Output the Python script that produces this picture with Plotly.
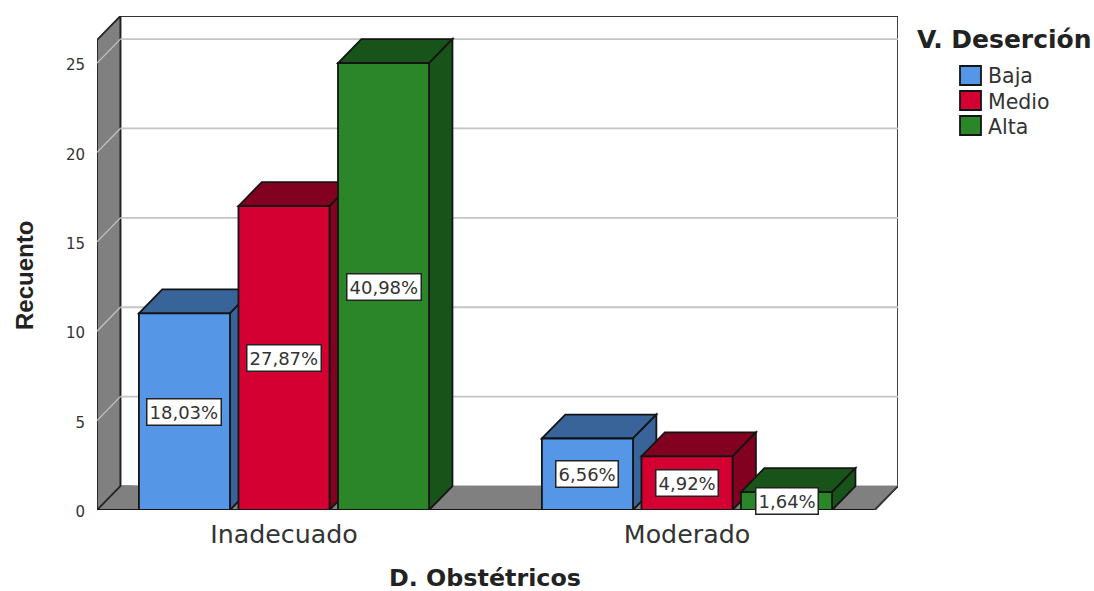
import plotly.graph_objects as go

CATEGORIES = ["Inadecuado", "Moderado"]
CAT_POS = [0, 1]
SERIES = ["Baja", "Medio", "Alta"]
COUNTS = {"Baja": [11, 4], "Medio": [17, 3], "Alta": [25, 1]}
PERCENTS = {
    "Baja": ["18,03%", "6,56%"],
    "Medio": ["27,87%", "4,92%"],
    "Alta": ["40,98%", "1,64%"],
}
Y_TICKS = [0, 5, 10, 15, 20, 25]

FRONT = {"Baja": "#5596E6", "Medio": "#D50032", "Alta": "#2B8629"}
SHADE = {"Baja": "#386499", "Medio": "#820020", "Alta": "#18541A"}
EDGE = "#141414"
WALL = "#808080"
GRID = "#C4C4C4"
TEXT = "#333333"
FONT = "DejaVu Sans"

# plot box in pixels, left/right/top/bottom
L, R, T, B = 97, 898, 16, 510
X_RANGE = [-0.464, 1.5236]
Y_RANGE = [0, 27.63]
# oblique depth of the fake 3D, in axis units
DX = 0.058
DY = 1.34
BAR_W = 0.226
BAR_STEP = 0.247


def px_x(p):
    return (p - L) / (R - L)


def px_y(p):
    return (B - p) / (B - T)


def poly(points, fill, line=EDGE, width=1.8):
    path = "M " + " L ".join(f"{x},{y}" for x, y in points) + " Z"
    return dict(type="path", path=path, xref="x", yref="y", layer="below",
                fillcolor=fill, line=dict(color=line, width=width))


def seg(x0, y0, x1, y1, color, width):
    return dict(type="line", x0=x0, y0=y0, x1=x1, y1=y1, xref="x", yref="y",
                layer="below", line=dict(color=color, width=width))


def label(px, py, text, size, family=FONT, color="#222222", xanchor="center", angle=0):
    return dict(x=px_x(px), y=px_y(py), xref="paper", yref="paper", xanchor=xanchor, yanchor="middle",
                text=text, textangle=angle, showarrow=False, font=dict(family=family, size=size, color=color))


x0, x1 = X_RANGE[0], X_RANGE[1] - DX
y_top = Y_RANGE[1] - DY

shapes = [
    # back wall outline
    poly([(x0 + DX, DY), (x0 + DX, y_top + DY), (x1 + DX, y_top + DY), (x1 + DX, DY), (x1, 0)], "white", "#333333", 1.8),
    # floor and left wall
    poly([(x0, 0), (x0 + DX, DY), (x1 + DX, DY), (x1, 0)], WALL, WALL, 1),
    poly([(x0, 0), (x0, y_top), (x0 + DX, y_top + DY), (x0 + DX, DY)], WALL, "#222222", 1.8),
    seg(x0, 0, x1, 0, EDGE, 1.8),
    seg(x1, 0, x1 + DX, DY, "#333333", 1.8),
]
for tick in Y_TICKS[1:]:
    shapes.append(seg(x0 + DX, tick + DY, x1 + DX, tick + DY, GRID, 1.8))
    shapes.append(seg(x0, tick, x0 + DX, tick + DY, GRID, 1.2))

fig = go.Figure()
annotations = []
for i, name in enumerate(SERIES):
    offset = (i - 1) * BAR_STEP
    fig.add_bar(
        x=CAT_POS,
        y=COUNTS[name],
        name=name,
        width=BAR_W,
        offset=offset - BAR_W / 2,
        marker=dict(color=FRONT[name], line=dict(color=EDGE, width=1.8)),
        showlegend=False,
    )
    for pos, val, pct in zip(CAT_POS, COUNTS[name], PERCENTS[name]):
        left = pos + offset - BAR_W / 2
        right = pos + offset + BAR_W / 2
        shapes.append(poly([(left, val), (left + DX, val + DY), (right + DX, val + DY), (right, val)], SHADE[name]))
        shapes.append(poly([(right, 0), (right, val), (right + DX, val + DY), (right + DX, DY)], SHADE[name]))
        annotations.append(dict(
            x=pos + offset, y=val / 2, xref="x", yref="y", text=pct, showarrow=False,
            bgcolor="white", bordercolor="#222222", borderwidth=1.5, borderpad=2,
            font=dict(family=FONT, size=18, color=TEXT),
        ))

# titles
annotations.append(label(484.5, 578, "<b>D. Obstétricos</b>", 23.8))
annotations.append(label(24, 276, "<b>Recuento</b>", 24, family="Liberation Sans", angle=-90))
annotations.append(label(915, 39, "<b>V. Deserción</b>", 25, xanchor="left"))

# legend
for name, top in zip(SERIES, [66, 91, 116]):
    shapes.append(dict(type="rect", xref="paper", yref="paper", x0=px_x(960), x1=px_x(981),
                       y0=px_y(top), y1=px_y(top + 19), fillcolor=FRONT[name], line=dict(color=EDGE, width=1.8)))
    annotations.append(label(986, top + 10.5, name, 20.5, color=TEXT, xanchor="left"))

fig.update_layout(
    width=1094,
    height=591,
    autosize=False,
    margin=dict(l=L, r=1094 - R, t=T, b=591 - B, pad=0),
    paper_bgcolor="white",
    plot_bgcolor="white",
    barmode="overlay",
    shapes=shapes,
    annotations=annotations,
    font=dict(family=FONT, color=TEXT),
)
fig.update_xaxes(range=X_RANGE, tickvals=CAT_POS, ticktext=CATEGORIES, showgrid=False, zeroline=False, showline=False,
                 ticks="outside", ticklen=2, tickcolor="rgba(0,0,0,0)", tickfont=dict(family=FONT, size=25.3, color=TEXT))
fig.update_yaxes(range=Y_RANGE, tickvals=Y_TICKS, showgrid=False, zeroline=False, showline=False,
                 ticks="outside", ticklen=8, tickcolor="rgba(0,0,0,0)", ticklabelshift=2,
                 tickfont=dict(family=FONT, size=15, color=TEXT))

fig.write_html("out.html", config=dict(displayModeBar=False), post_script="document.body.style.margin='0';")
